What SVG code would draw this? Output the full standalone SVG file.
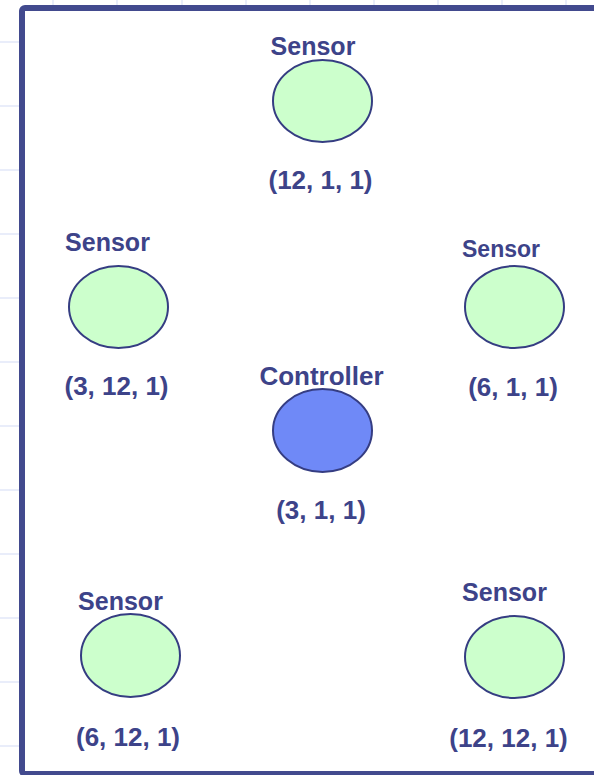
<svg xmlns="http://www.w3.org/2000/svg" width="594" height="775" viewBox="0 0 594 775">
  <style>
    .grid line { stroke: #e9edfa; stroke-width: 2; }
    .frame { fill: #ffffff; stroke: #424a8e; stroke-width: 6; }
    .node ellipse { stroke: #353d82; stroke-width: 2; }
    .sensor ellipse { fill: #ccffcc; }
    .controller ellipse { fill: #6f89f7; }
    text { font-family: "Liberation Sans", Arial, sans-serif; font-weight: bold; fill: #3d4389; text-anchor: middle; }
    .name { font-size: 25px; }
    .coord { font-size: 26px; }
  </style>

  <!-- background grid -->
  <g class="grid">
    <line x1="53" y1="0" x2="53" y2="775"/>
    <line x1="117" y1="0" x2="117" y2="775"/>
    <line x1="182" y1="0" x2="182" y2="775"/>
    <line x1="246" y1="0" x2="246" y2="775"/>
    <line x1="310" y1="0" x2="310" y2="775"/>
    <line x1="374" y1="0" x2="374" y2="775"/>
    <line x1="438" y1="0" x2="438" y2="775"/>
    <line x1="502" y1="0" x2="502" y2="775"/>
    <line x1="566" y1="0" x2="566" y2="775"/>
    <line x1="0" y1="42" x2="594" y2="42"/>
    <line x1="0" y1="106" x2="594" y2="106"/>
    <line x1="0" y1="170" x2="594" y2="170"/>
    <line x1="0" y1="234" x2="594" y2="234"/>
    <line x1="0" y1="298" x2="594" y2="298"/>
    <line x1="0" y1="362" x2="594" y2="362"/>
    <line x1="0" y1="426" x2="594" y2="426"/>
    <line x1="0" y1="490" x2="594" y2="490"/>
    <line x1="0" y1="554" x2="594" y2="554"/>
    <line x1="0" y1="618" x2="594" y2="618"/>
    <line x1="0" y1="682" x2="594" y2="682"/>
    <line x1="0" y1="746" x2="594" y2="746"/>
  </g>

  <!-- panel frame -->
  <rect class="frame" x="22" y="8" width="620" height="766" rx="3"/>

  <!-- connectors (none drawn) -->
  <g id="connectors"/>

  <g id="sensor-top" class="node sensor">
    <text class="name" x="313" y="55">Sensor</text>
    <ellipse cx="322.5" cy="101" rx="49.5" ry="41"/>
    <text class="coord" x="320.5" y="189">(12, 1, 1)</text>
  </g>

  <g id="sensor-left" class="node sensor">
    <text class="name" x="107.5" y="251">Sensor</text>
    <ellipse cx="118.5" cy="307" rx="49.5" ry="41"/>
    <text class="coord" x="116.5" y="395">(3, 12, 1)</text>
  </g>

  <g id="sensor-right" class="node sensor">
    <text class="name" x="501" y="256.5" style="font-size:23px">Sensor</text>
    <ellipse cx="514.5" cy="307" rx="49.5" ry="41"/>
    <text class="coord" x="513" y="396">(6, 1, 1)</text>
  </g>

  <g id="controller" class="node controller">
    <text class="name" x="321.5" y="385" style="font-size:26px">Controller</text>
    <ellipse cx="322.5" cy="430.5" rx="49.5" ry="41.5"/>
    <text class="coord" x="321" y="519">(3, 1, 1)</text>
  </g>

  <g id="sensor-bottom-left" class="node sensor">
    <text class="name" x="120.5" y="610">Sensor</text>
    <ellipse cx="130.5" cy="655.5" rx="49.5" ry="41.5"/>
    <text class="coord" x="128" y="746">(6, 12, 1)</text>
  </g>

  <g id="sensor-bottom-right" class="node sensor">
    <text class="name" x="504.5" y="600.5">Sensor</text>
    <ellipse cx="514.5" cy="657" rx="49.5" ry="41"/>
    <text class="coord" x="508.5" y="746.5">(12, 12, 1)</text>
  </g>
</svg>
